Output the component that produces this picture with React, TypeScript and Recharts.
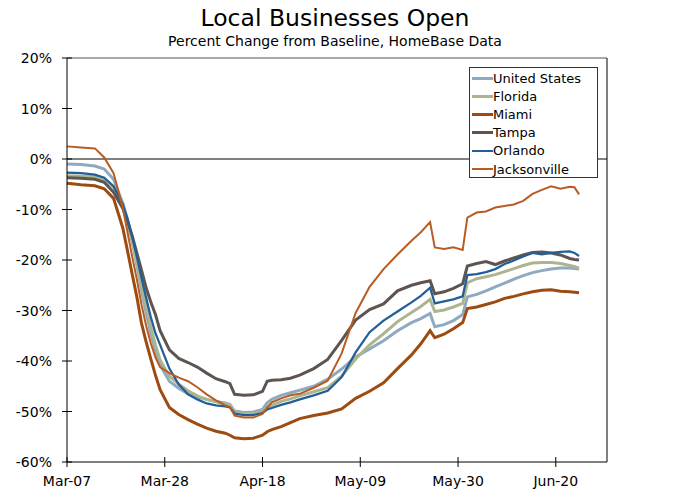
import React from 'react';
import { LineChart, Line, XAxis, YAxis, ReferenceLine } from 'recharts';

// days since Mar-07
const days = [0, 3, 6, 8, 10, 12, 13, 14, 15, 16, 17, 18, 19, 20, 22, 24, 26, 28, 30, 32, 34, 35, 36, 38, 40, 42, 43,
  44, 46, 48, 50, 53, 56, 59, 62, 65, 68, 71, 74, 76, 78, 79, 81, 83, 85, 86, 88, 90, 92, 94, 96, 98, 100, 102, 104,
  106, 108, 109, 110];

const tickDays = [0, 21, 42, 63, 84, 105];
const dateLabels = ['Mar-07', 'Mar-28', 'Apr-18', 'May-09', 'May-30', 'Jun-20'];
const yTicks = [20, 10, 0, -10, -20, -30, -40, -50, -60];

const unitedStates = [-1.0, -1.1, -1.4, -2.0, -4.0, -8.8, -12.0, -16.0, -21.0, -26.0, -30.5, -34.5, -38.0, -40.8,
  -44.0, -45.4, -46.5, -47.1, -47.6, -48.0, -48.3, -48.6, -49.9, -50.2, -50.1, -49.6, -48.3,
  -47.6, -46.8, -46.3, -45.8, -45.0, -43.6, -41.6, -39.2, -37.6, -36.0, -34.0, -32.4, -31.6, -30.6,
  -33.2, -32.8, -32.0, -30.8, -27.3, -26.8, -26.1, -25.3, -24.6, -23.8, -23.1, -22.5, -22.1, -21.8,
  -21.6, -21.6, -21.7, -21.8];

const florida = [-3.3, -3.4, -3.5, -4.1, -5.6, -9.6, -12.6, -16.3, -20.5, -25.0, -29.3, -33.2, -36.8, -39.8,
  -43.0, -44.6, -45.9, -46.9, -47.6, -48.1, -48.5, -48.8, -50.2, -50.5, -50.4, -50.0, -49.2,
  -48.8, -48.0, -47.5, -46.9, -46.1, -45.3, -43.0, -39.6, -36.8, -34.6, -32.2, -30.4, -29.2, -27.8,
  -30.2, -29.9, -29.3, -28.6, -24.5, -23.7, -23.3, -22.9, -22.3, -21.7, -21.1, -20.6, -20.5, -20.5,
  -20.7, -21.1, -21.3, -21.6];

const miami = [-4.8, -5.1, -5.3, -5.9, -7.8, -13.7, -18.2, -22.8, -27.3, -32.5, -36.2, -39.6, -42.8, -45.7,
  -49.2, -50.6, -51.6, -52.5, -53.3, -53.9, -54.3, -54.7, -55.2, -55.4, -55.3, -54.7, -54.0,
  -53.6, -53.0, -52.2, -51.4, -50.8, -50.3, -49.5, -47.4, -46.0, -44.3, -41.5, -38.8, -36.6, -34.0,
  -35.4, -34.7, -33.6, -32.4, -29.6, -29.3, -28.8, -28.3, -27.6, -27.2, -26.7, -26.3, -26.0, -25.9,
  -26.2, -26.3, -26.4, -26.5];

const tampa = [-3.7, -3.8, -4.0, -4.6, -6.6, -9.8, -12.3, -15.2, -18.6, -22.0, -25.5, -28.3, -30.8, -34.0,
  -37.8, -39.5, -40.3, -41.2, -42.4, -43.5, -44.1, -44.5, -46.6, -46.8, -46.7, -46.0, -44.0,
  -43.8, -43.7, -43.4, -42.8, -41.5, -39.7, -35.9, -31.9, -29.8, -28.7, -26.1, -25.0, -24.5, -24.1,
  -26.7, -26.3, -25.6, -24.7, -21.2, -20.7, -20.3, -20.9, -20.2, -19.6, -19.0, -18.5, -18.4, -18.6,
  -19.0, -19.7, -19.9, -20.0];

const orlando = [-2.7, -2.8, -3.1, -3.7, -5.4, -9.0, -11.8, -15.3, -19.3, -23.5, -27.5, -31.3, -34.5, -36.8,
  -41.5, -44.6, -46.6, -47.6, -48.4, -48.8, -49.0, -49.2, -50.4, -50.7, -50.7, -50.3, -49.6,
  -49.3, -48.7, -48.2, -47.6, -46.8, -45.9, -43.2, -38.3, -34.3, -32.0, -30.2, -28.4, -27.1, -25.5,
  -28.6, -28.2, -27.8, -27.2, -23.0, -22.8, -22.4, -21.8, -20.8, -20.1, -19.3, -18.6, -18.9, -18.6,
  -18.4, -18.3, -18.6, -19.2];

const jacksonville = [2.5, 2.3, 2.1, 0.3, -2.8, -9.7, -14.5, -19.3, -23.8, -28.8, -33.0, -36.5, -39.3, -41.2,
  -42.4, -43.3, -44.0, -45.2, -46.6, -47.8, -48.8, -49.1, -50.8, -51.2, -51.2, -50.5, -49.2,
  -48.2, -47.4, -46.8, -46.5, -45.3, -43.9, -38.5, -30.5, -25.3, -21.8, -18.9, -16.2, -14.5, -12.5,
  -17.5, -17.8, -17.5, -18.0, -11.6, -10.6, -10.4, -9.6, -9.3, -9.0, -8.3, -6.9, -6.1, -5.4,
  -5.9, -5.5, -5.6, -7.0];

const series = [
  { key: 'unitedStates', name: 'United States', color: '#8eaac0', width: 3, values: unitedStates },
  { key: 'florida', name: 'Florida', color: '#adb58f', width: 3, values: florida },
  { key: 'miami', name: 'Miami', color: '#9e4b12', width: 3, values: miami },
  { key: 'tampa', name: 'Tampa', color: '#5f5550', width: 3, values: tampa },
  { key: 'orlando', name: 'Orlando', color: '#225e98', width: 2.25, values: orlando },
  { key: 'jacksonville', name: 'Jacksonville', color: '#b85c24', width: 2, values: jacksonville },
];

const data = days.map((day, i) => {
  const row: Record<string, number> = { day };
  series.forEach(s => { row[s.key] = s.values[i]; });
  return row;
});

const font = '"DejaVu Sans", Verdana, sans-serif';

const LeftTick = (props: any) => {
  const { x, y, payload } = props;
  return (
    <g>
      <line x1={x - 5} x2={x + 5} y1={y} y2={y} stroke="#000" />
      <text x={x - 15} y={y} dy={5} textAnchor="end" fontSize={14} fill="#000" fontFamily={font}>{payload.value}%</text>
    </g>
  );
};

const RightTick = (props: any) => {
  const { x, y, payload } = props;
  return (
    <g>
      <line x1={x - 5} x2={x + 5} y1={y} y2={y} stroke="#000" />
      <text x={x + 15} y={y} dy={5} textAnchor="start" fontSize={14} fill="#000" fontFamily={font}>{payload.value}%</text>
    </g>
  );
};

const BottomTick = (props: any) => {
  const { x, y, payload } = props;
  const label = dateLabels[tickDays.indexOf(payload.value)];
  return (
    <g>
      <line x1={x} x2={x} y1={y - 5} y2={y + 5} stroke="#000" />
      <text x={x} y={y + 24} textAnchor="middle" fontSize={14} fill="#000" fontFamily={font}>{label}</text>
    </g>
  );
};

export default function App() {
  return (
    <div style={{ position: 'absolute', left: 0, top: 0, width: 678, height: 494, background: '#fff', fontFamily: font }}>
      <div style={{ position: 'absolute', left: 0, width: 670, top: 4, textAlign: 'center', fontSize: 23.5, lineHeight: '28px' }}>
        Local Businesses Open
      </div>
      <div style={{ position: 'absolute', left: 0, width: 670, top: 32, textAlign: 'center', fontSize: 14, lineHeight: '18px' }}>
        Percent Change from Baseline, HomeBase Data
      </div>
      <LineChart width={678} height={494} data={data} margin={{ top: 58, right: 0, bottom: 0, left: 0 }}>
        <XAxis
          dataKey="day"
          type="number"
          domain={[0, 116]}
          ticks={tickDays}
          interval={0}
          height={32}
          tickSize={0}
          tickMargin={0}
          tickLine={false}
          axisLine={{ stroke: '#000' }}
          tick={<BottomTick />}
        />
        <YAxis
          yAxisId="left"
          domain={[-60, 20]}
          ticks={yTicks}
          interval={0}
          width={67}
          tickSize={0}
          tickMargin={0}
          tickLine={false}
          axisLine={{ stroke: '#000' }}
          tick={<LeftTick />}
        />
        <YAxis
          yAxisId="right"
          orientation="right"
          domain={[-60, 20]}
          ticks={yTicks}
          interval={0}
          width={71}
          tickSize={0}
          tickMargin={0}
          tickLine={false}
          axisLine={{ stroke: '#000' }}
          tick={<RightTick />}
        />
        <ReferenceLine yAxisId="left" y={20} stroke="#8c8c8c" strokeWidth={1.5} />
        <ReferenceLine yAxisId="left" y={0} stroke="#808080" strokeWidth={2} />
        {series.map(s => (
          <Line
            key={s.key}
            yAxisId="left"
            type="linear"
            dataKey={s.key}
            name={s.name}
            stroke={s.color}
            strokeWidth={s.width}
            dot={false}
            activeDot={false}
            isAnimationActive={false}
          />
        ))}
      </LineChart>
      <div style={{ position: 'absolute', left: 469, top: 67, width: 127, height: 109, border: '1px solid #333', background: '#fff' }}>
        {series.map((s, i) => (
          <div key={s.key} style={{ position: 'absolute', left: 2, top: 1 + i * 18.2, height: 18, display: 'flex', alignItems: 'center' }}>
            <span style={{ display: 'inline-block', width: 21, height: 0, borderTop: `${Math.max(2, s.width)}px solid ${s.color}` }} />
            <span style={{ fontSize: 13, color: '#000', whiteSpace: 'nowrap' }}>{s.name}</span>
          </div>
        ))}
      </div>
    </div>
  );
}
